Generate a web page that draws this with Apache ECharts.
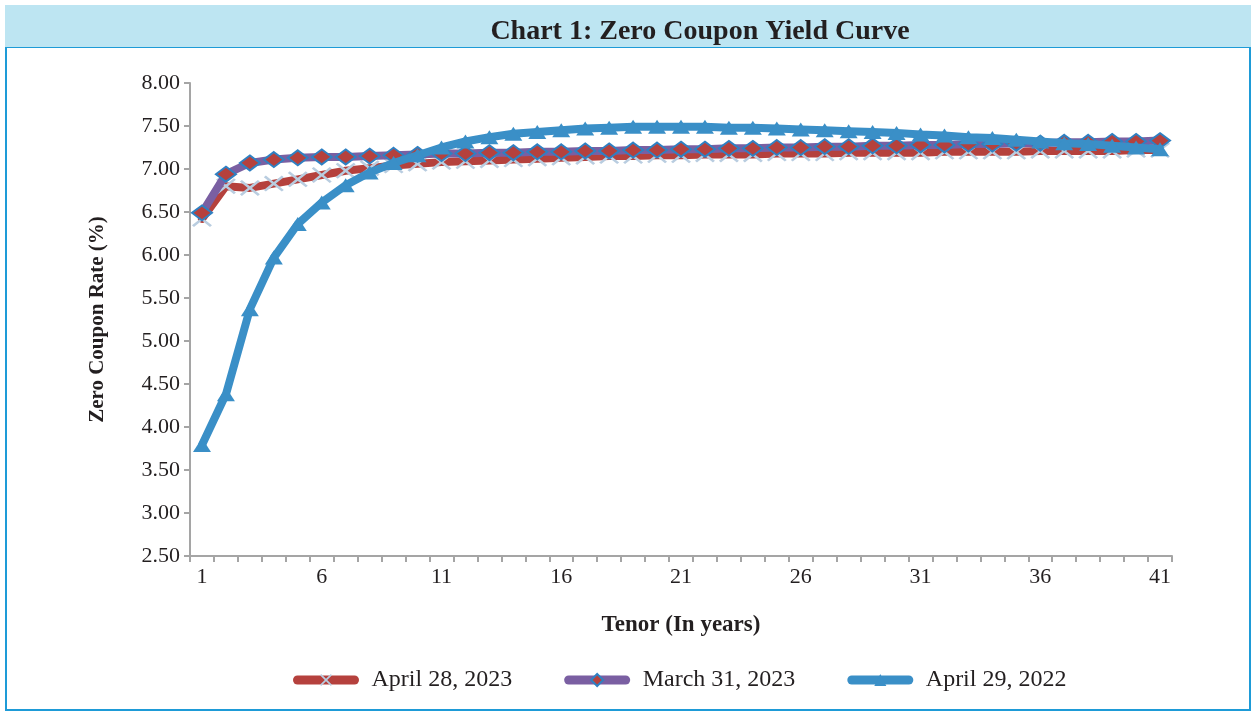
<!DOCTYPE html>
<html>
<head>
<meta charset="utf-8">
<script src="https://cdn.jsdelivr.net/npm/echarts@6/dist/echarts.min.js"></script>
<style>
  html, body { margin: 0; padding: 0; background: #fff; }
  #main { width: 1251px; height: 713px; }
</style>
</head>
<body>
<div id="main"></div>
<script>
// 期限 (years)
var tenors = [];
for (var i = 1; i <= 41; i++) tenors.push(String(i));

var seriesNames = ['April 28, 2023', 'March 31, 2023', 'April 29, 2022'];

var apr2023 = [6.42, 6.80, 6.78, 6.83, 6.88, 6.93, 6.98, 7.01, 7.04, 7.06,
  7.08, 7.09, 7.10, 7.11, 7.12, 7.13, 7.14, 7.15, 7.15, 7.16,
  7.16, 7.17, 7.17, 7.17, 7.18, 7.18, 7.18, 7.19, 7.19, 7.19,
  7.19, 7.20, 7.20, 7.20, 7.20, 7.21, 7.21, 7.21, 7.21, 7.22, 7.22];

var mar2023 = [6.49, 6.94, 7.07, 7.11, 7.13, 7.14, 7.14, 7.15, 7.16, 7.17,
  7.18, 7.18, 7.19, 7.19, 7.20, 7.20, 7.21, 7.21, 7.22, 7.22,
  7.23, 7.23, 7.24, 7.24, 7.25, 7.25, 7.26, 7.26, 7.27, 7.27,
  7.28, 7.28, 7.29, 7.29, 7.30, 7.30, 7.31, 7.31, 7.32, 7.32, 7.33];

var apr2022 = [3.79, 4.38, 5.37, 5.97, 6.36, 6.61, 6.81, 6.96, 7.07, 7.16,
  7.25, 7.32, 7.37, 7.41, 7.43, 7.45, 7.47, 7.48, 7.49, 7.49,
  7.49, 7.49, 7.48, 7.48, 7.47, 7.46, 7.45, 7.44, 7.43, 7.42,
  7.40, 7.39, 7.37, 7.36, 7.34, 7.32, 7.30, 7.29, 7.27, 7.25, 7.23];

var yMin = 2.5, yMax = 8, yStep = 0.5;

var serif = '"Liberation Serif", "DejaVu Serif", serif';
var textColor = '#231f20';
var axisGray = '#a5a5a5';

// X 形标记
var crossPath = 'path://M0,1L1,0L5,4L9,0L10,1L6,5L10,9L9,10L5,6L1,10L0,9L4,5Z';

var myChart = echarts.init(document.getElementById('main'));

var option = {
  backgroundColor: '#ffffff',
  animation: false,
  textStyle: { fontFamily: serif, color: textColor },
  graphic: [
    {
      type: 'rect',
      shape: { x: 6, y: 47, width: 1244, height: 663 },
      style: { fill: 'none', stroke: '#1e9bd7', lineWidth: 2 },
      z: 0
    },
    {
      type: 'rect',
      shape: { x: 5, y: 5, width: 1246, height: 42 },
      style: { fill: '#bde5f2' },
      z: 0
    },
    {
      type: 'text',
      x: 700,
      y: 32,
      style: {
        text: 'Chart 1: Zero Coupon Yield Curve',
        font: 'bold 28px ' + serif,
        fill: textColor,
        align: 'center',
        verticalAlign: 'middle'
      },
      z: 1
    }
  ],
  grid: {
    left: 190,
    right: 79,
    top: 83,
    bottom: 157
  },
  legend: {
    left: 288,
    top: 663,
    itemWidth: 57,
    itemHeight: 15,
    itemGap: 52,
    lineStyle: { width: 9, cap: 'round' },
    textStyle: {
      fontFamily: serif,
      fontSize: 24,
      color: textColor,
      padding: [0, 0, 0, 12]
    },
    data: seriesNames
  },
  xAxis: {
    type: 'category',
    data: tenors,
    boundaryGap: true,
    name: 'Tenor (In years)',
    nameLocation: 'middle',
    nameGap: 58,
    nameTextStyle: { fontFamily: serif, fontSize: 23, fontWeight: 'bold', color: textColor },
    axisLine: { lineStyle: { color: axisGray, width: 2 } },
    axisTick: { show: true, interval: 0, length: 6, lineStyle: { color: axisGray, width: 2 } },
    axisLabel: { interval: 4, fontFamily: serif, fontSize: 22, color: textColor, margin: 10 },
    splitLine: { show: false }
  },
  yAxis: {
    type: 'value',
    min: yMin,
    max: yMax,
    interval: yStep,
    name: 'Zero Coupon Rate (%)',
    nameLocation: 'middle',
    nameRotate: 90,
    nameGap: 82,
    nameTextStyle: { fontFamily: serif, fontSize: 21, fontWeight: 'bold', color: textColor },
    axisLine: { show: true, lineStyle: { color: axisGray, width: 2 } },
    axisTick: { show: true, length: 6, lineStyle: { color: axisGray, width: 2 } },
    axisLabel: {
      fontFamily: serif,
      fontSize: 22,
      color: textColor,
      margin: 10,
      formatter: function (v) { return v.toFixed(2); }
    },
    splitLine: { show: false }
  },
  series: [
    {
      name: seriesNames[0],
      type: 'line',
      data: apr2023,
      symbol: crossPath,
      symbolSize: [20, 16],
      showAllSymbol: true,
      lineStyle: { color: '#b5413d', width: 8, cap: 'round', join: 'round' },
      itemStyle: { color: '#b9cde0' },
      z: 2
    },
    {
      name: seriesNames[1],
      type: 'line',
      data: mar2023,
      symbol: 'diamond',
      symbolSize: [20, 15],
      showAllSymbol: true,
      lineStyle: { color: '#7a5fa2', width: 8, cap: 'round', join: 'round' },
      itemStyle: { color: '#b5413d', borderColor: '#2f80c2', borderWidth: 2 },
      z: 3
    },
    {
      name: seriesNames[2],
      type: 'line',
      data: apr2022,
      symbol: 'triangle',
      symbolSize: [18, 14],
      showAllSymbol: true,
      lineStyle: { color: '#3a8fc7', width: 8, cap: 'round', join: 'round' },
      itemStyle: { color: '#3a8fc7' },
      z: 4
    }
  ]
};

myChart.setOption(option);
</script>
</body>
</html>
